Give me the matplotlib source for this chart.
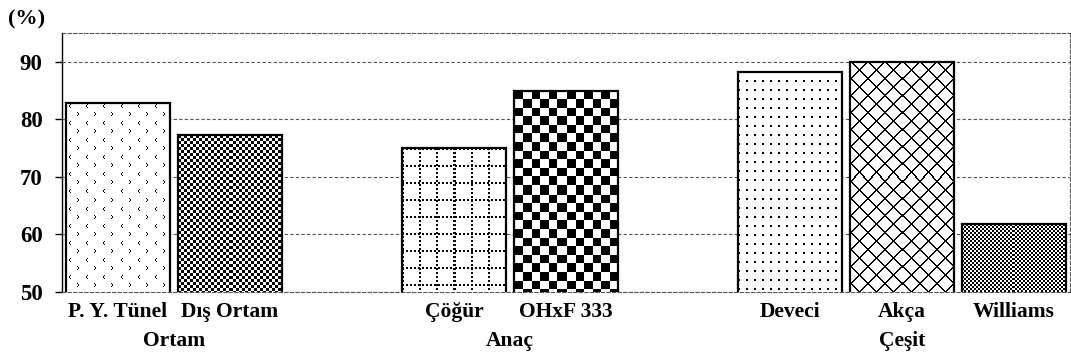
import numpy as np
import matplotlib
matplotlib.use("Agg")
import matplotlib.pyplot as plt
from matplotlib.transforms import blended_transform_factory

plt.rcParams['font.family'] = ['Liberation Serif', 'DejaVu Serif']
plt.rcParams['font.weight'] = 'bold'

labels = ["P. Y. Tünel", "Dış Ortam", "Çöğür", "OHxF 333", "Deveci", "Akça", "Williams"]
values = [82.9, 77.2, 75.0, 85.0, 88.3, 90.0, 61.8]
slots = [0, 1, 3, 4, 6, 7, 8]
groups = ["Ortam", "Anaç", "Çeşit"]
group_centers = [0.5, 3.5, 7.0]
yticks = [50, 60, 70, 80, 90]


# fill textures, drawn pixel by pixel from the top-left corner of each bar
def tex_chevrons(yy, xx):
    p = 17
    a = np.zeros(yy.shape, bool)
    ly, lx = yy % p, xx % p
    for dy, dx in [(2, 4), (3, 3), (4, 3), (5, 4)]:
        a |= (ly == dy) & (lx == dx)
    for dy, dx in [(10, 11), (11, 12), (12, 12), (13, 11)]:
        a |= (ly == dy) & (lx == dx)
    return a

def tex_checker(n):
    return lambda yy, xx: ((np.floor(yy / n) + np.floor(xx / n)) % 2) == 0

def tex_dotgrid(yy, xx):
    p = 17
    v = (xx % p < 2) & ((yy // 2) % 2 == 0)
    h = (yy % p < 2) & ((xx // 2) % 2 == 0)
    return v | h

def tex_dots(yy, xx):
    return (xx % 8 < 2) & (yy % 9 < 2)

def tex_diamonds(yy, xx):
    return ((xx + yy) % 17 < 2) | ((xx - yy) % 17 < 2)

textures = [tex_chevrons, tex_checker(3), tex_dotgrid, tex_checker(8.6),
            tex_dots, tex_diamonds, tex_checker(2)]

fig = plt.figure(figsize=(10.71, 3.61), dpi=100)
ax = fig.add_axes([62 / 1071, 1 - 292 / 361, (1070 - 62) / 1071, (292 - 33) / 361])

ax.set_xlim(-0.5, 8.5)
ax.set_ylim(50, 95)
ax.set_yticks(yticks)
ax.set_yticklabels([str(t) for t in yticks], fontsize=16.5, fontweight='bold')
ax.tick_params(axis='y', direction='out', length=5, width=1, color='black', pad=9)
ax.set_xticks(slots)
ax.set_xticklabels(labels, fontsize=15.5, fontweight='bold')
ax.tick_params(axis='x', length=0, pad=7)

ax.grid(axis='y', color='#555555', linestyle=(0, (3, 2)), linewidth=0.8, zorder=0)
ax.set_axisbelow(True)
for side in ['top', 'right', 'bottom']:
    ax.spines[side].set_color('#555555')
    ax.spines[side].set_linestyle((0, (3, 2)))
    ax.spines[side].set_linewidth(0.8)
ax.spines['left'].set_linewidth(1.0)

width = 0.92
bars = ax.bar(slots, values, width=width, bottom=0, color='white', edgecolor='none', zorder=2)
fig.canvas.draw()

for bar, tex in zip(bars, textures):
    bb = bar.get_window_extent()
    w = int(round(bb.width))
    h = int(round(bb.y1 - ax.get_window_extent().y0))
    yy, xx = np.mgrid[0:h, 0:w]
    img = np.where(tex(yy, xx), 0.0, 1.0)
    x0 = bar.get_x()
    ax.imshow(img, cmap='gray', vmin=0, vmax=1, interpolation='nearest',
              extent=(x0, x0 + width, 50, bar.get_height()), aspect='auto', zorder=3)

ax.bar(slots, values, width=width, fill=False, edgecolor='black', linewidth=1.6, zorder=4)
ax.set_xlim(-0.5, 8.5)
ax.set_ylim(50, 95)

trans = blended_transform_factory(ax.transData, ax.transAxes)
for name, c in zip(groups, group_centers):
    ax.text(c, -0.19, name, transform=trans, ha='center', va='center',
            fontsize=15.5, fontweight='bold')

fig.text(8 / 1071, 1 - 19 / 361, "(%)", ha='left', va='center', fontsize=16, fontweight='bold')

fig.savefig("out.png", dpi=100)
